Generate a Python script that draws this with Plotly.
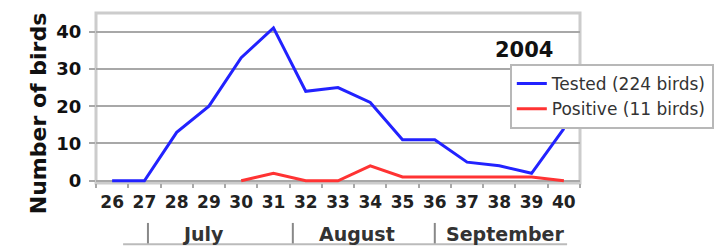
import plotly.graph_objects as go

weeks = ["26", "27", "28", "29", "30", "31", "32", "33", "34", "35", "36", "37", "38", "39", "40"]
tested = [0, 0, 13, 20, 33, 41, 24, 25, 21, 11, 11, 5, 4, 2, 14]
positive = [None, None, None, None, 0, 2, 0, 0, 4, 1, 1, 1, 1, 1, 0]
months = ["July", "August", "September"]
month_centers = [2.82, 7.59, 12.17]
month_separators = [1.11, 5.60, 10.0]
year_label = "2004"

FONT = "DejaVu Sans"

fig = go.Figure()
fig.add_trace(go.Scatter(x=weeks, y=tested, mode="lines", name="Tested (224 birds)",
                         line=dict(color="#2222ff", width=3)))
fig.add_trace(go.Scatter(x=weeks, y=positive, mode="lines", name="Positive (11 birds)",
                         line=dict(color="#ff3333", width=3)))

fig.update_layout(
    width=714, height=238,
    margin=dict(l=88, r=142, t=5, b=63),
    paper_bgcolor="white", plot_bgcolor="white",
    showlegend=True,
    legend=dict(x=0.855, y=0.70, xanchor="left", yanchor="top",
                bgcolor="white", bordercolor="#b8b8b8", borderwidth=2,
                font=dict(family=FONT, size=17, color="#333333")),
    xaxis=dict(type="category", range=[-0.5, 14.5], tickson="boundaries",
               ticks="outside", ticklen=4, tickwidth=2, tickcolor="#a8a8a8",
               ticklabelstandoff=7,
               showgrid=False, showline=False, zeroline=False,
               tickfont=dict(family=FONT, size=17, color="#222222", weight="bold"),
               tickangle=0),
    yaxis=dict(range=[-0.6, 45], tickvals=[0, 10, 20, 30, 40],
               showgrid=True, gridcolor="#a8a8a8", gridwidth=2,
               zeroline=False, showline=False,
               ticks="outside", ticklen=6, tickwidth=2, tickcolor="#a8a8a8",
               ticklabelstandoff=4,
               tickfont=dict(family=FONT, size=18, color="#111111", weight="bold")),
)

# plot frame
fig.add_shape(type="rect", xref="paper", yref="paper", x0=0, x1=1, y0=0, y1=1,
              line=dict(color="#cccccc", width=3), layer="below")

# y title
fig.add_annotation(text="<b>Number of birds</b>", xref="paper", yref="paper",
                   x=-0.12, y=0.41, xanchor="center", yanchor="middle",
                   textangle=-90, showarrow=False,
                   font=dict(family=FONT, size=22, color="#111111"))
# year
fig.add_annotation(text="<b>" + year_label + "</b>", xref="paper", yref="paper",
                   x=0.948, y=0.78, xanchor="right", yanchor="middle", showarrow=False,
                   font=dict(family=FONT, size=21, color="#111111"))

# month labels and separators
for m, c in zip(months, month_centers):
    fig.add_annotation(text="<b>" + m + "</b>", xref="x", yref="paper", x=c, y=-0.30,
                       xanchor="center", yanchor="middle",
                       showarrow=False, font=dict(family=FONT, size=19, color="#333333"))
for s in month_separators:
    fig.add_shape(type="line", xref="x", yref="paper", x0=s, x1=s, y0=-0.235, y1=-0.36,
                  line=dict(color="#888888", width=2))
fig.add_shape(type="line", xref="x", yref="paper", x0=0.34, x1=14.1, y0=-0.36, y1=-0.36,
              line=dict(color="#bbbbbb", width=2))

fig.write_html("out.html")
